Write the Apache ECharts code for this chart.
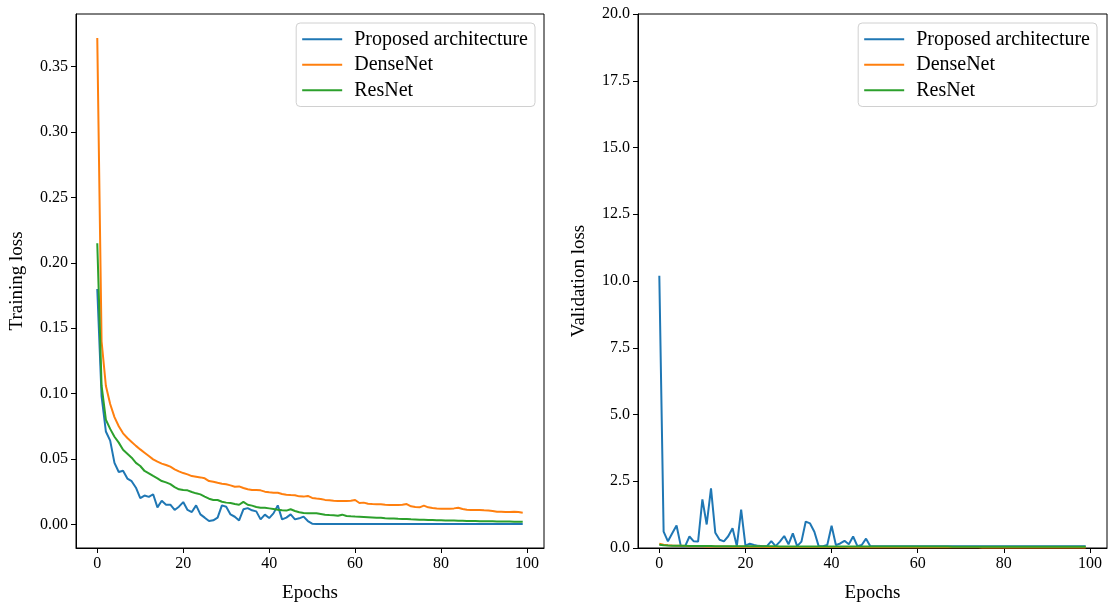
<!DOCTYPE html>
<html>
<head>
<meta charset="utf-8">
<script src="https://cdn.jsdelivr.net/npm/echarts@6/dist/echarts.min.js"></script>
<style>
  html, body { margin: 0; padding: 0; background: #fff; }
  #chart { width: 1117px; height: 605px; }
</style>
</head>
<body>
<div id="chart"></div>
<script>
// Series names shown in both legends
const seriesNames = ['Proposed architecture', 'DenseNet', 'ResNet'];

// Tick values
const epochTicks = [0, 20, 40, 60, 80, 100];
const trainTicks = [0, 0.05, 0.10, 0.15, 0.20, 0.25, 0.30, 0.35];

// Training loss per epoch (0..99)
const trainProposed = [
  0.180, 0.098, 0.071, 0.064, 0.047, 0.040, 0.041, 0.035, 0.033, 0.028,
  0.020, 0.022, 0.021, 0.023, 0.013, 0.018, 0.015, 0.015, 0.011, 0.0135,
  0.017, 0.011, 0.0094, 0.0145, 0.0076, 0.0051, 0.0025, 0.0031, 0.0051, 0.0145,
  0.0135, 0.0076, 0.0058, 0.0030, 0.0115, 0.0124, 0.0107, 0.0099, 0.0038, 0.0074,
  0.0048, 0.0084, 0.0145, 0.0038, 0.0051, 0.0076, 0.0038, 0.0046, 0.0059, 0.0025,
  0.0005, 0.0002, 0.0002, 0.0002, 0.0002, 0.0002, 0.0002, 0.0002, 0.0002, 0.0002,
  0.0002, 0.0002, 0.0002, 0.0002, 0.0002, 0.0002, 0.0002, 0.0002, 0.0002, 0.0002,
  0.0002, 0.0002, 0.0002, 0.0002, 0.0002, 0.0002, 0.0002, 0.0002, 0.0002, 0.0002,
  0.0002, 0.0002, 0.0002, 0.0002, 0.0002, 0.0002, 0.0002, 0.0002, 0.0002, 0.0002,
  0.0002, 0.0002, 0.0002, 0.0002, 0.0002, 0.0002, 0.0002, 0.0002, 0.0002, 0.0002
];
const trainDense = [
  0.372, 0.140, 0.106, 0.092, 0.082, 0.075, 0.0696, 0.066, 0.063, 0.060,
  0.0573, 0.0548, 0.0523, 0.0497, 0.0479, 0.0464, 0.0454, 0.0441, 0.0421, 0.0405,
  0.0392, 0.0382, 0.0369, 0.0364, 0.0359, 0.0352, 0.0331, 0.0326, 0.0318, 0.0311,
  0.0306, 0.0298, 0.0288, 0.0290, 0.0278, 0.0268, 0.0263, 0.0263, 0.0260, 0.0250,
  0.0245, 0.0242, 0.0242, 0.0232, 0.0227, 0.0224, 0.0222, 0.0214, 0.0212, 0.0217,
  0.0202, 0.0197, 0.0194, 0.0187, 0.0184, 0.0181, 0.0179, 0.0179, 0.0178, 0.0181,
  0.0186, 0.0163, 0.0166, 0.0158, 0.0155, 0.0153, 0.0153, 0.0150, 0.0148, 0.0148,
  0.0148, 0.0150, 0.0155, 0.0138, 0.0133, 0.0130, 0.0143, 0.0130, 0.0125, 0.0122,
  0.0120, 0.0120, 0.0120, 0.0122, 0.0127, 0.0117, 0.0112, 0.0110, 0.0110, 0.0110,
  0.0107, 0.0105, 0.0102, 0.0097, 0.0097, 0.0094, 0.0094, 0.0097, 0.0094, 0.0089
];
const trainRes = [
  0.215, 0.106, 0.080, 0.073, 0.067, 0.0625, 0.057, 0.054, 0.051, 0.047,
  0.0446, 0.0408, 0.0390, 0.0370, 0.0352, 0.0331, 0.0321, 0.0308, 0.0285, 0.0268,
  0.0262, 0.0260, 0.0247, 0.0237, 0.0229, 0.0212, 0.0196, 0.0186, 0.0186, 0.0173,
  0.0166, 0.0163, 0.0155, 0.0150, 0.0172, 0.0150, 0.0143, 0.0133, 0.0127, 0.0127,
  0.0122, 0.0117, 0.0112, 0.0107, 0.0105, 0.0115, 0.0102, 0.0092, 0.0087, 0.0084,
  0.0084, 0.0084, 0.0079, 0.0074, 0.0071, 0.0069, 0.0066, 0.0074, 0.0064, 0.0061,
  0.0059, 0.0058, 0.0056, 0.0054, 0.0052, 0.0050, 0.0050, 0.0047, 0.0045, 0.0044,
  0.0042, 0.0041, 0.0040, 0.0038, 0.0037, 0.0036, 0.0035, 0.0034, 0.0033, 0.0032,
  0.0031, 0.0030, 0.0029, 0.0029, 0.0028, 0.0027, 0.0026, 0.0026, 0.0025, 0.0024,
  0.0024, 0.0023, 0.0023, 0.0022, 0.0022, 0.0021, 0.0021, 0.0020, 0.0020, 0.0019
];

// Validation loss per epoch (0..99)
const valProposed = [
  10.2, 0.61, 0.25, 0.55, 0.84, 0.07, 0.07, 0.43, 0.25, 0.24,
  1.82, 0.88, 2.23, 0.57, 0.31, 0.25, 0.44, 0.74, 0.07, 1.44,
  0.09, 0.16, 0.11, 0.08, 0.07, 0.07, 0.26, 0.07, 0.24, 0.45,
  0.14, 0.55, 0.07, 0.24, 0.99, 0.92, 0.61, 0.07, 0.07, 0.11,
  0.83, 0.11, 0.17, 0.27, 0.14, 0.43, 0.07, 0.11, 0.35, 0.07,
  0.07, 0.07, 0.07, 0.07, 0.07, 0.07, 0.07, 0.07, 0.07, 0.07,
  0.07, 0.07, 0.07, 0.07, 0.07, 0.07, 0.07, 0.07, 0.07, 0.07,
  0.07, 0.07, 0.07, 0.07, 0.07, 0.07, 0.07, 0.07, 0.07, 0.07,
  0.07, 0.07, 0.07, 0.07, 0.07, 0.07, 0.07, 0.07, 0.07, 0.07,
  0.07, 0.07, 0.07, 0.07, 0.07, 0.07, 0.07, 0.07, 0.07, 0.07
];
const valDense = [
  0.16, 0.12, 0.10, 0.09, 0.085, 0.08, 0.075, 0.07, 0.068, 0.065,
  0.062, 0.06, 0.058, 0.056, 0.055, 0.053, 0.052, 0.05, 0.049, 0.048,
  0.047, 0.046, 0.045, 0.044, 0.043, 0.042, 0.042, 0.041, 0.04, 0.04,
  0.039, 0.038, 0.038, 0.037, 0.037, 0.036, 0.036, 0.035, 0.035, 0.034,
  0.034, 0.033, 0.033, 0.033, 0.032, 0.032, 0.031, 0.031, 0.031, 0.03,
  0.03, 0.03, 0.029, 0.029, 0.029, 0.028, 0.028, 0.028, 0.028, 0.027,
  0.027, 0.027, 0.026, 0.026, 0.026, 0.026, 0.025, 0.025, 0.025, 0.025,
  0.025, 0.024, 0.024, 0.024, 0.024, 0.023, 0.023, 0.023, 0.023, 0.023,
  0.022, 0.022, 0.022, 0.022, 0.022, 0.021, 0.021, 0.021, 0.021, 0.021,
  0.021, 0.02, 0.02, 0.02, 0.02, 0.02, 0.02, 0.02, 0.019, 0.019
];
const valRes = [
  0.12, 0.10, 0.092, 0.088, 0.085, 0.082, 0.08, 0.078, 0.076, 0.075,
  0.074, 0.072, 0.071, 0.07, 0.069, 0.068, 0.067, 0.066, 0.066, 0.065,
  0.064, 0.064, 0.063, 0.063, 0.062, 0.062, 0.061, 0.061, 0.06, 0.06,
  0.06, 0.059, 0.059, 0.059, 0.058, 0.058, 0.058, 0.057, 0.057, 0.057,
  0.057, 0.056, 0.056, 0.056, 0.056, 0.055, 0.055, 0.055, 0.055, 0.055,
  0.054, 0.054, 0.054, 0.054, 0.054, 0.053, 0.053, 0.053, 0.053, 0.053,
  0.053, 0.052, 0.052, 0.052, 0.052, 0.052, 0.052, 0.052, 0.051, 0.051,
  0.051, 0.051, 0.051, 0.051, 0.051, 0.051, 0.051, 0.05, 0.05, 0.05,
  0.05, 0.05, 0.05, 0.05, 0.05, 0.05, 0.05, 0.05, 0.05, 0.05,
  0.05, 0.05, 0.05, 0.05, 0.05, 0.05, 0.05, 0.05, 0.05, 0.05
];

const colors = ['#1f77b4', '#ff7f0e', '#2ca02c'];
const FONT = '"Liberation Serif", "DejaVu Serif", serif';

const pairs = arr => arr.map((v, i) => [i, v]);

const chart = echarts.init(document.getElementById('chart'), null, { renderer: 'canvas' });

const axisCommon = {
  axisLine: { show: true, onZero: false, lineStyle: { color: '#000', width: 1 } },
  axisTick: { show: true, inside: false, length: 5, lineStyle: { color: '#000', width: 1 } },
  splitLine: { show: false },
  nameTextStyle: { fontFamily: FONT, fontSize: 19, color: '#000' }
};

function xAxisFor(gridIndex) {
  return Object.assign({}, axisCommon, {
    type: 'value',
    gridIndex: gridIndex,
    min: -4.95,
    max: 103.95,
    name: 'Epochs',
    nameLocation: 'middle',
    nameGap: 36,
    axisTick: Object.assign({}, axisCommon.axisTick, { customValues: epochTicks }),
    axisLabel: {
      customValues: epochTicks,
      margin: 8,
      fontFamily: FONT, fontSize: 16, color: '#000',
      formatter: v => String(v)
    }
  });
}

function legendFor(right) {
  return {
    data: seriesNames,
    orient: 'vertical',
    right: right,
    top: 23,
    icon: 'rect',
    itemWidth: 40,
    itemHeight: 2,
    itemGap: 5,
    padding: [6, 7, 6, 6],
    borderColor: '#d0d0d0',
    borderWidth: 1,
    borderRadius: 4,
    backgroundColor: 'rgba(255,255,255,0.8)',
    selectedMode: false,
    textStyle: { fontFamily: FONT, fontSize: 20, color: '#000', lineHeight: 20.5, padding: [0, 0, 0, 7] }
  };
}

function lineSeries(name, data, color, xi, yi) {
  return {
    name: name,
    type: 'line',
    xAxisIndex: xi,
    yAxisIndex: yi,
    data: pairs(data),
    symbol: 'none',
    showSymbol: false,
    clip: true,
    animation: false,
    lineStyle: { color: color, width: 2 },
    itemStyle: { color: color }
  };
}

const yLabelStyle = {
  margin: 8,
  fontFamily: FONT, fontSize: 16, color: '#000',
  padding: [5, 0, 0, 0]
};

const gridCommon = {
  top: 14, height: 534,
  show: true, borderColor: '#000', borderWidth: 1,
  containLabel: false,
  outerBoundsMode: 'none'
};

const option = {
  backgroundColor: '#fff',
  animation: false,
  grid: [
    Object.assign({ left: 76, width: 468 }, gridCommon),
    Object.assign({ left: 638, width: 469 }, gridCommon)
  ],
  legend: [legendFor(582), legendFor(20)],
  xAxis: [xAxisFor(0), xAxisFor(1)],
  yAxis: [
    Object.assign({}, axisCommon, {
      type: 'value',
      gridIndex: 0,
      min: -0.0181,
      max: 0.3903,
      name: 'Training loss',
      nameLocation: 'middle',
      nameGap: 49,
      axisTick: Object.assign({}, axisCommon.axisTick, { customValues: trainTicks }),
      axisLabel: Object.assign({}, yLabelStyle, {
        customValues: trainTicks,
        formatter: v => v.toFixed(2)
      })
    }),
    Object.assign({}, axisCommon, {
      type: 'value',
      gridIndex: 1,
      min: 0,
      max: 20,
      interval: 2.5,
      name: 'Validation loss',
      nameLocation: 'middle',
      nameGap: 49,
      axisLabel: Object.assign({}, yLabelStyle, {
        formatter: v => v.toFixed(1)
      })
    })
  ],
  series: [
    lineSeries(seriesNames[0], trainProposed, colors[0], 0, 0),
    lineSeries(seriesNames[1], trainDense, colors[1], 0, 0),
    lineSeries(seriesNames[2], trainRes, colors[2], 0, 0),
    lineSeries(seriesNames[0], valProposed, colors[0], 1, 1),
    lineSeries(seriesNames[1], valDense, colors[1], 1, 1),
    lineSeries(seriesNames[2], valRes, colors[2], 1, 1)
  ]
};

chart.setOption(option);
</script>
</body>
</html>
